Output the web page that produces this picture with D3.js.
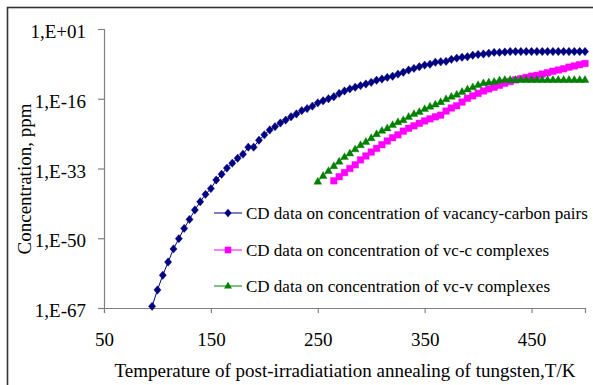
<!DOCTYPE html>
<html>
<head>
<meta charset="utf-8">
<script src="https://cdn.jsdelivr.net/npm/d3@7"></script>
<style>
  html, body { margin: 0; padding: 0; background: #fff; }
  svg { display: block; }
  text { font-family: "Liberation Serif", "Times New Roman", serif; fill: #000; }
</style>
</head>
<body>
<svg id="chart" width="593" height="385"></svg>
<script>
// ---- data (concentration stored as log10 of ppm) ----
const blueT = [95,100,105,110,115,120,125,130,135,140,145,150,155,160,165,170,175,180,185,190,195,200,205,210,215,220,225,230,235,240,245,250,255,260,265,270,275,280,285,290,295,300,305,310,315,320,325,330,335,340,345,350,355,360,365,370,375,380,385,390,395,400,405,410,415,420,425,430,435,440,445,450,455,460,465,470,475,480,485,490,495,500];
const blueLog = [-66.6,-62.6,-59.0,-55.8,-52.6,-50.1,-47.6,-45.4,-43.1,-41.1,-39.3,-37.9,-35.8,-34.4,-32.9,-31.7,-30.5,-29.5,-27.8,-27.8,-26.1,-24.8,-23.6,-22.8,-21.9,-21.2,-20.4,-19.7,-18.9,-18.4,-17.8,-17.0,-16.5,-16.0,-15.5,-14.7,-14.1,-13.6,-13.2,-12.8,-12.4,-12.0,-11.5,-11.2,-10.8,-10.5,-10.0,-9.55,-9.0,-8.6,-8.2,-7.8,-7.6,-7.1,-7.0,-6.9,-6.4,-6.1,-5.9,-5.75,-5.4,-5.2,-5.1,-4.9,-4.7,-4.7,-4.6,-4.5,-4.5,-4.5,-4.5,-4.5,-4.5,-4.5,-4.5,-4.5,-4.5,-4.5,-4.5,-4.5,-4.5,-4.5];

const pinkT = [265,270,275,280,285,290,295,300,305,310,315,320,325,330,335,340,345,350,355,360,365,370,375,380,385,390,395,400,405,410,415,420,425,430,435,440,445,450,455,460,465,470,475,480,485,490,495,500];
const pinkLog = [-36.0,-35.0,-34.0,-33.0,-32.1,-30.9,-29.95,-29.0,-28.1,-27.2,-26.3,-25.5,-24.8,-23.9,-23.2,-22.6,-22.0,-21.4,-20.9,-20.4,-20.0,-19.0,-18.25,-17.7,-16.8,-15.9,-15.3,-14.7,-14.1,-13.6,-13.2,-12.7,-12.2,-11.8,-11.4,-11.1,-10.8,-10.5,-10.3,-9.97,-9.65,-9.3,-9.0,-8.7,-8.3,-8.0,-7.7,-7.4];

const greenT = [250,255,260,265,270,275,280,285,290,295,300,305,310,315,320,325,330,335,340,345,350,355,360,365,370,375,380,385,390,395,400,405,410,415,420,425,430,435,440,445,450,455,460,465,470,475,480,485,490,495,500];
const greenLog = [-36.2,-34.8,-33.6,-32.4,-31.3,-30.2,-29.3,-28.3,-27.3,-26.5,-25.6,-24.6,-23.8,-23.2,-22.4,-21.7,-21.2,-20.4,-19.7,-19.2,-18.5,-17.9,-17.4,-16.8,-16.1,-15.5,-15.0,-14.3,-13.7,-13.2,-12.65,-12.2,-12.0,-11.85,-11.5,-11.4,-11.4,-11.4,-11.4,-11.4,-11.4,-11.4,-11.4,-11.4,-11.4,-11.4,-11.4,-11.4,-11.4,-11.4,-11.4];

const xTicks = [50,150,250,350,450];
const yTicks = [1e1,1e-16,1e-33,1e-50,1e-67];
const yTickLabels = ["1,E+01","1,E-16","1,E-33","1,E-50","1,E-67"];
const seriesNames = [
  "CD data on concentration of vacancy-carbon pairs",
  "CD data on concentration of vc-c complexes",
  "CD data on concentration of vc-v complexes"
];
const xTitle = "Temperature of post-irradiatiation annealing of tungsten,T/K";
const yTitle = "Concentration, ppm";

// ---- drawing ----
const svg = d3.select("#chart");
const x = d3.scaleLinear().domain([50, 500]).range([104, 585]);
const y = d3.scaleLog().domain([1e-67, 1e1]).range([308, 29]);

// outer frame (top and left visible)
svg.append("rect").attr("x", 7.5).attr("y", 7.5).attr("width", 620).attr("height", 420)
  .attr("fill", "none").attr("stroke", "#333").attr("stroke-width", 1.6);

const axisColor = "#808080";
// x axis
const xAxis = svg.append("g").attr("transform", "translate(0,308)")
  .call(d3.axisBottom(x).tickValues(xTicks).tickSize(5).tickPadding(20).tickFormat(d3.format("d")));
// y axis
const yAxis = svg.append("g").attr("transform", "translate(104,0)")
  .call(d3.axisLeft(y).tickValues(yTicks).tickSize(6).tickPadding(12)
    .tickFormat((d, i) => yTickLabels[i]));
[xAxis, yAxis].forEach(g => {
  g.attr("font-family", "Liberation Serif").attr("font-size", 19);
  g.select(".domain").attr("stroke", axisColor).attr("stroke-width", 1.2);
  g.selectAll(".tick line").attr("stroke", axisColor).attr("stroke-width", 1.2);
  g.selectAll(".tick text").attr("fill", "#000");
});
yAxis.selectAll(".tick text").attr("dy", "0.45em");

// titles
svg.append("text").attr("x", 345).attr("y", 377).attr("text-anchor", "middle")
  .attr("font-size", 19).text(xTitle);
svg.append("text").attr("transform", "translate(31,179) rotate(-90)").attr("text-anchor", "middle")
  .attr("font-size", 19).text(yTitle);

// marker shapes
const diamond = "M0,-4.2L3.6,0L0,4.2L-3.6,0Z";
const square = "M-3.3,-3.3H3.3V3.3H-3.3Z";
const triangle = "M0,-4.3L3.9,2.6H-3.9Z";

const series = [
  { t: blueT, v: blueLog, color: "#000080", shape: diamond },
  { t: pinkT, v: pinkLog, color: "#FF00FF", shape: square },
  { t: greenT, v: greenLog, color: "#008000", shape: triangle }
];

const line = d3.line().x(d => x(d[0])).y(d => y(Math.pow(10, d[1])));
series.forEach(s => {
  const pts = s.t.map((t, i) => [t, s.v[i]]);
  const g = svg.append("g");
  g.append("path").attr("d", line(pts)).attr("fill", "none").attr("stroke", s.color).attr("stroke-width", 1);
  g.selectAll("path.m").data(pts).enter().append("path").attr("class", "m")
    .attr("d", s.shape)
    .attr("transform", d => `translate(${x(d[0])},${y(Math.pow(10, d[1]))})`)
    .attr("fill", s.color).attr("stroke", s.color).attr("stroke-width", 0.4);
});

// legend
const legendY = [213, 250, 286];
series.forEach((s, i) => {
  const g = svg.append("g").attr("transform", `translate(0,${legendY[i]})`);
  g.append("line").attr("x1", 214).attr("x2", 242).attr("y1", 0).attr("y2", 0)
    .attr("stroke", s.color).attr("stroke-width", 1);
  g.append("path").attr("d", s.shape).attr("transform", "translate(228,0)").attr("fill", s.color);
  g.append("text").attr("x", 246).attr("y", 0).attr("dy", "0.35em").attr("font-size", 17).text(seriesNames[i]);
});
</script>
</body>
</html>
